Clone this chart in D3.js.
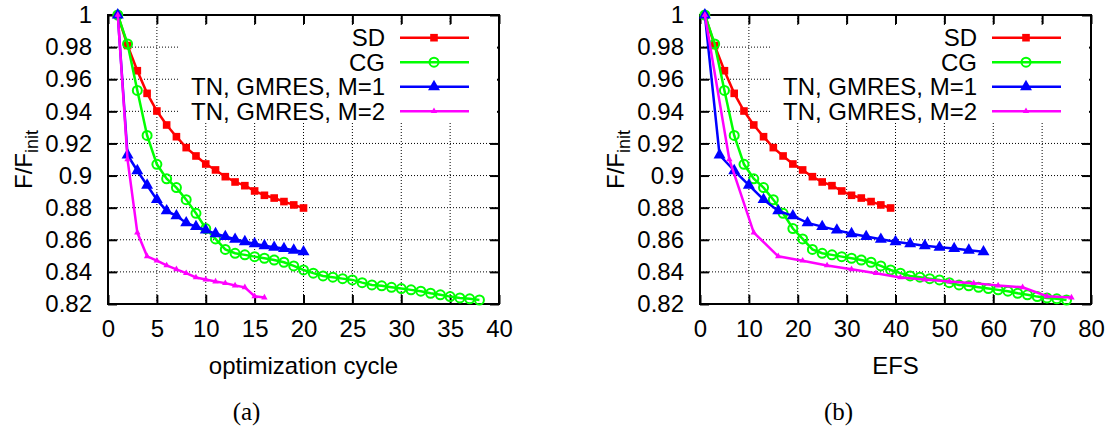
<!DOCTYPE html>
<html>
<head>
<meta charset="utf-8">
<script src="https://cdn.jsdelivr.net/npm/d3@7"></script>
<style>
  body { margin: 0; background: #fff; }
  svg { display: block; font-family: "Liberation Sans", Arial, sans-serif; }
</style>
</head>
<body>
<svg id="chart" width="1115" height="430"></svg>
<script>
// F/F_init, one entry per optimization cycle
const sdCycle = [1, 2, 3, 4, 5, 6, 7, 8, 9, 10, 11, 12, 13, 14, 15, 16, 17, 18, 19, 20];
const sdEfs = [1, 3, 5, 7, 9, 11, 13, 15, 17, 19, 21, 23, 25, 27, 29, 31, 33, 35, 37, 39];
const sdF = [1.0, 0.981, 0.9653, 0.9512, 0.9402, 0.9315, 0.9242, 0.9174, 0.9122, 0.9072,
  0.9035, 0.8993, 0.896, 0.8937, 0.8904, 0.8877, 0.886, 0.8838, 0.8817, 0.8798];

const cgCycle = [1, 2, 3, 4, 5, 6, 7, 8, 9, 10, 11, 12, 13, 14, 15, 16, 17, 18, 19, 20,
  21, 22, 23, 24, 25, 26, 27, 28, 29, 30, 31, 32, 33, 34, 35, 36, 37, 38];
const cgEfs = [1, 3, 5, 7, 9, 11, 13, 15, 17, 19, 21, 23, 25, 27, 29, 31, 33, 35, 37, 39,
  41, 43, 45, 47, 49, 51, 53, 55, 57, 59, 61, 63, 65, 67, 69, 71, 73, 75];
const cgF = [1.0, 0.982, 0.953, 0.925, 0.907, 0.898, 0.8925, 0.885, 0.8765, 0.867,
  0.8605, 0.854, 0.8516, 0.8506, 0.8495, 0.8485, 0.8474, 0.846, 0.8437, 0.8412,
  0.8392, 0.8375, 0.8367, 0.8358, 0.835, 0.8333, 0.8319, 0.8313, 0.8304, 0.8296,
  0.8288, 0.828, 0.8267, 0.8257, 0.8246, 0.8238, 0.8232, 0.8225];

const tn1Cycle = [1, 2, 3, 4, 5, 6, 7, 8, 9, 10, 11, 12, 13, 14, 15, 16, 17, 18, 19, 20];
const tn1Efs = [1, 4, 7, 10, 13, 16, 19, 22, 25, 28, 31, 34, 37, 40, 43, 46, 49, 52, 55, 58];
const tn1F = [1.0, 0.9128, 0.903, 0.894, 0.885, 0.878, 0.8749, 0.8705, 0.8682, 0.866,
  0.8638, 0.862, 0.8603, 0.8588, 0.8575, 0.8563, 0.8553, 0.8545, 0.8535, 0.8525];

const tn2Cycle = [1, 2, 3, 4, 5, 6, 7, 8, 9, 10, 11, 12, 13, 14, 15, 16];
const tn2Efs = [1, 6, 11, 16, 21, 26, 31, 36, 41, 46, 51, 56, 61, 66, 71, 76];
const tn2F = [1.0, 0.910, 0.8645, 0.8497, 0.847, 0.844, 0.8416, 0.8392, 0.8365, 0.8352,
  0.834, 0.833, 0.8315, 0.8304, 0.8248, 0.824];

const yTicks = [0.82, 0.84, 0.86, 0.88, 0.9, 0.92, 0.94, 0.96, 0.98, 1];
const xTicksCycle = [0, 5, 10, 15, 20, 25, 30, 35, 40];
const xTicksEfs = [0, 10, 20, 30, 40, 50, 60, 70, 80];

const series = [
  { name: 'SD', color: '#ff0000', marker: 'square', cycle: sdCycle, efs: sdEfs, f: sdF },
  { name: 'CG', color: '#00ff00', marker: 'circle', cycle: cgCycle, efs: cgEfs, f: cgF },
  { name: 'TN, GMRES, M=1', color: '#0000ff', marker: 'tri', cycle: tn1Cycle, efs: tn1Efs, f: tn1F },
  { name: 'TN, GMRES, M=2', color: '#ff00ff', marker: 'smalltri', cycle: tn2Cycle, efs: tn2Efs, f: tn2F }
];

const svg = d3.select('#chart');
const fmt = d3.format('~g');

function addMarker(sel, type, color) {
  if (type === 'circle') {
    sel.append('circle').attr('r', 4.5)
      .attr('fill', 'none').attr('stroke', color).attr('stroke-width', 2);
  } else {
    let sym = d3.symbol().type(d3.symbolSquare).size(58);
    if (type === 'tri') sym = d3.symbol().type(d3.symbolTriangle).size(62);
    if (type === 'smalltri') sym = d3.symbol().type(d3.symbolTriangle).size(18);
    sel.append('path').attr('d', sym()).attr('fill', color);
  }
}

function drawPanel(left, xMax, xTicks, xKey, xLabel, caption) {
  const top = 15, bottom = 304, right = left + 391;
  const x = d3.scaleLinear().domain([0, xMax]).range([left, right]);
  const y = d3.scaleLinear().domain([0.82, 1]).range([bottom, top]);
  const g = svg.append('g');

  // dotted grid
  g.selectAll('.gx').data(xTicks.slice(1, -1)).enter().append('line')
    .attr('x1', d => x(d)).attr('x2', d => x(d))
    .attr('y1', top).attr('y2', bottom);
  g.selectAll('.gy').data(yTicks.slice(1, -1)).enter().append('line')
    .attr('x1', left).attr('x2', right)
    .attr('y1', d => y(d)).attr('y2', d => y(d));
  g.selectAll('line').attr('stroke', '#000').attr('stroke-width', 1)
    .attr('stroke-dasharray', '1,2');

  // ticks on all four sides, pointing in
  const axes = [
    d3.axisBottom(x).tickValues(xTicks).tickFormat(fmt),
    d3.axisTop(x).tickValues(xTicks).tickFormat(''),
    d3.axisLeft(y).tickValues(yTicks).tickFormat(fmt),
    d3.axisRight(y).tickValues(yTicks).tickFormat('')
  ];
  const pos = [[0, bottom], [0, top], [left, 0], [right, 0]];
  axes.forEach((ax, i) => {
    const a = g.append('g').attr('transform', `translate(${pos[i][0]},${pos[i][1]})`)
      .call(ax.tickSize(-9).tickPadding(16));
    a.select('.domain').remove();
    a.selectAll('line').attr('stroke', '#000').attr('stroke-width', 2);
    a.selectAll('text').attr('font-size', 24).attr('fill', '#000')
      .attr('font-family', '"Liberation Sans", Arial, sans-serif');
  });

  // opaque key box
  g.append('rect').attr('x', right - 320).attr('y', top + 11)
    .attr('width', 318).attr('height', 122 - top - 11).attr('fill', '#fff');

  g.append('rect').attr('x', left).attr('y', top)
    .attr('width', right - left).attr('height', bottom - top)
    .attr('fill', 'none').attr('stroke', '#000').attr('stroke-width', 2);

  const line = d3.line().x(d => x(d[0])).y(d => y(d[1]));
  series.forEach((s, i) => {
    const pts = s[xKey].map((v, k) => [v, s.f[k]]);
    g.append('path').datum(pts).attr('d', line)
      .attr('fill', 'none').attr('stroke', s.color).attr('stroke-width', 2.5);
    const m = g.selectAll('.m' + i).data(pts).enter().append('g')
      .attr('transform', d => `translate(${x(d[0])},${y(d[1])})`);
    addMarker(m, s.marker, s.color);

    // key entry
    const ky = 37.7 + i * 24.5;
    g.append('text').attr('x', right - 114).attr('y', ky).attr('dy', '0.35em')
      .attr('text-anchor', 'end').attr('font-size', 24).text(s.name);
    g.append('line').attr('x1', right - 99).attr('x2', right - 30)
      .attr('y1', ky).attr('y2', ky)
      .attr('stroke', s.color).attr('stroke-width', 2.5);
    addMarker(g.append('g').attr('transform', `translate(${right - 65},${ky})`), s.marker, s.color);
  });

  const cx = (left + right) / 2;
  g.append('text').attr('x', cx).attr('y', 374).attr('text-anchor', 'middle')
    .attr('font-size', 24).text(xLabel);

  const yl = g.append('text').attr('transform', `translate(${left - 76},${(top + bottom) / 2}) rotate(-90)`)
    .attr('text-anchor', 'middle').attr('font-size', 24);
  yl.append('tspan').text('F/F');
  yl.append('tspan').attr('dy', 6).attr('font-size', 18).text('init');

  g.append('text').attr('x', cx - 57).attr('y', 420).attr('text-anchor', 'middle')
    .attr('font-family', '"Liberation Serif", "Times New Roman", serif')
    .attr('font-size', 25).text(caption);
}

drawPanel(108, 40, xTicksCycle, 'cycle', 'optimization cycle', '(a)');
drawPanel(700, 80, xTicksEfs, 'efs', 'EFS', '(b)');
</script>
</body>
</html>
